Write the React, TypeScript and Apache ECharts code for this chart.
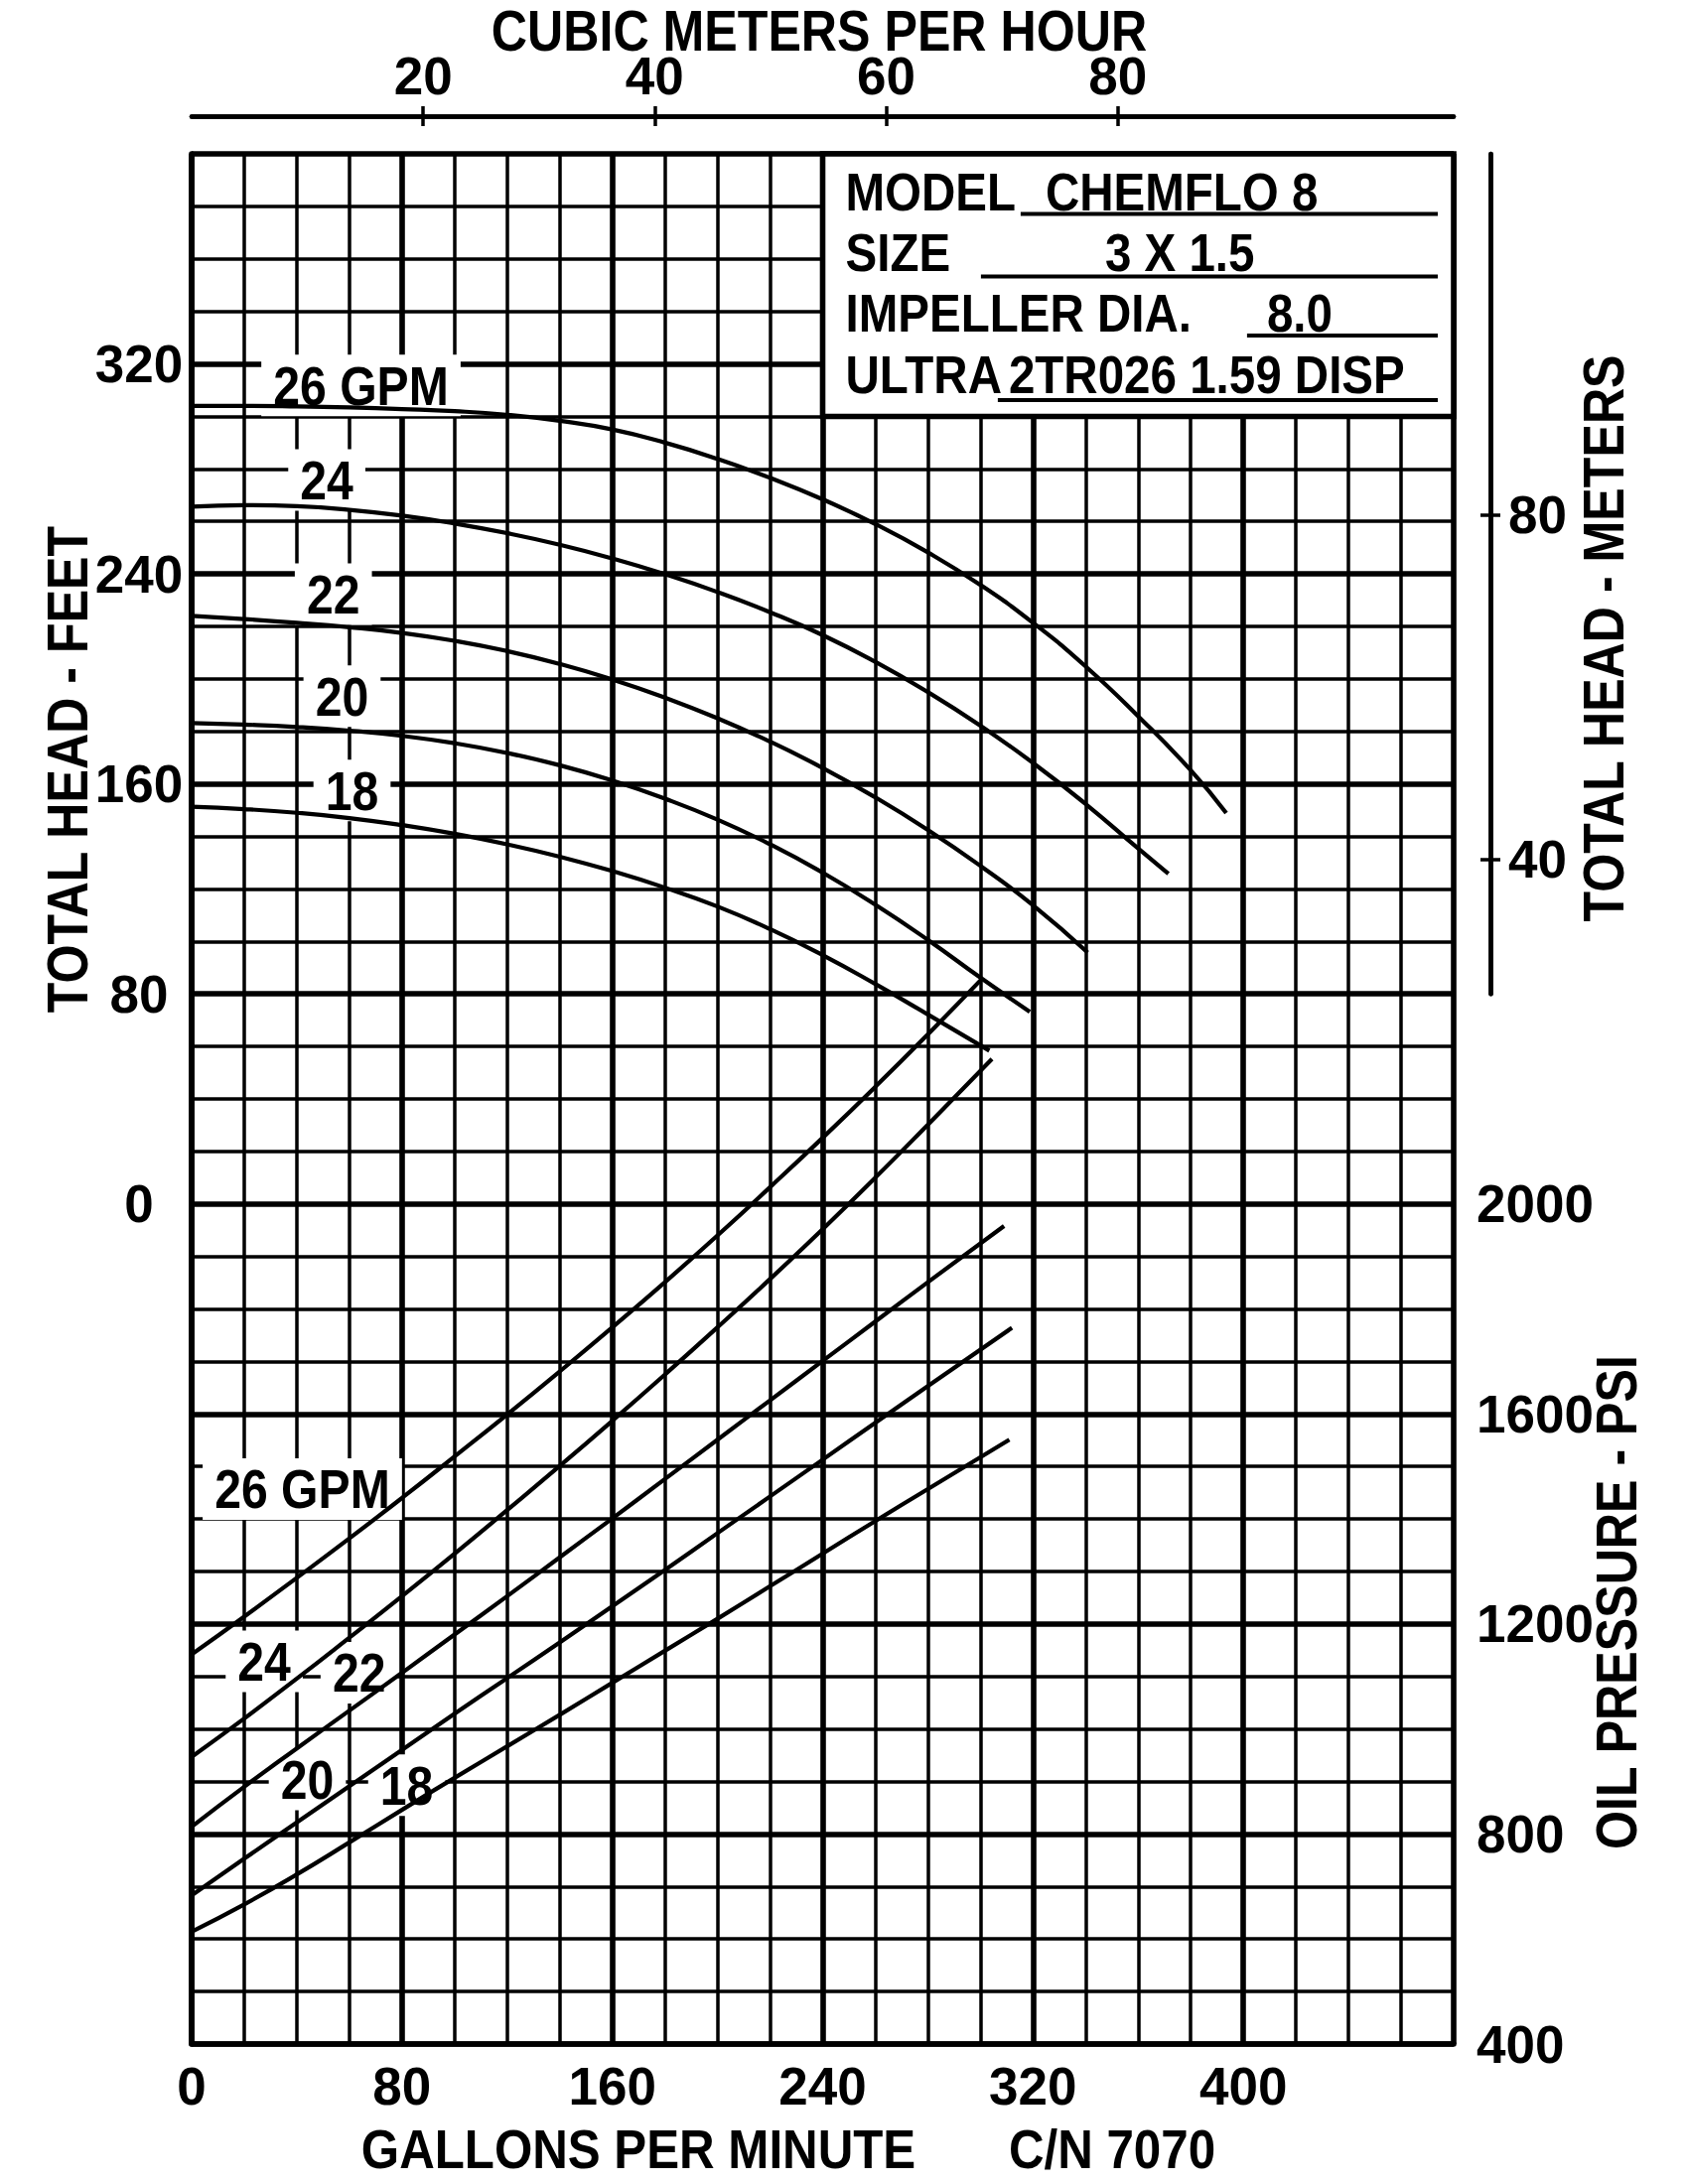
import React, { useEffect, useRef } from "react";
import * as echarts from "echarts";

const FONT = '"Liberation Sans", Arial, Helvetica, sans-serif';
const GPM_PER_M3H = 4.402868;
const M_PER_FT = 0.3048;

// axis tick labels
const gpmTickLabels = [0, 80, 160, 240, 320, 400];
const headTickLabels = [0, 80, 160, 240, 320];
const psiTickLabels = [2000, 1600, 1200, 800, 400];
const m3hTickLabels = [20, 40, 60, 80];
const metersTickLabels = [40, 80];

// head curves (total head, ft) vs flow (GPM), one per oil flow rate
const head26Gpm = [0, 20, 40, 60, 80, 100, 120, 140, 160, 180, 200, 220, 240, 260, 280, 300, 320, 340, 360, 380, 393.5];
const head26Ft = [304, 304, 303.8, 303.4, 302.8, 302, 300.6, 298.3, 295, 290, 283.8, 276.6, 268.4, 259, 248.2, 235.8, 221.4, 204.8, 185.8, 165.2, 148.9];
const head24Gpm = [0, 20, 40, 60, 80, 100, 120, 140, 160, 180, 200, 220, 240, 260, 280, 300, 320, 340, 360, 371.5];
const head24Ft = [265.6, 266.2, 265.8, 264.4, 262.2, 259.2, 255.5, 251.1, 245.9, 239.9, 233.1, 225.4, 216.7, 206.5, 195, 182.2, 168, 152.4, 135.4, 125.8];
const head22Gpm = [0, 20, 40, 60, 80, 100, 120, 140, 160, 180, 200, 220, 240, 260, 280, 300, 320, 340.8];
const head22Ft = [224, 222.8, 221.4, 219.7, 217.5, 214.5, 210.6, 205.7, 199.8, 192.9, 185, 176.1, 166.1, 154.9, 142.5, 128.8, 113.8, 95.8];
const head20Gpm = [0, 20, 40, 60, 80, 100, 120, 140, 160, 180, 200, 220, 240, 260, 280, 300, 318.8];
const head20Ft = [183.2, 182.6, 181.7, 180.3, 178.3, 175.5, 171.8, 167.1, 161.3, 154.4, 146.4, 137, 126.2, 114, 100.6, 86.2, 73.2];
const head18Gpm = [0, 20, 40, 60, 80, 100, 120, 140, 160, 180, 200, 220, 240, 260, 280, 303.4];
const head18Ft = [151.3, 150.4, 149, 147, 144.3, 141, 137, 132.3, 126.8, 120.5, 113.3, 104.7, 94.8, 83.8, 72.2, 58.4];

// oil pressure curves (psi) vs flow (GPM)
const oil26Gpm = [0, 20, 40, 60, 80, 100, 120, 140, 160, 180, 200, 220, 240, 260, 280, 300.8];
const oil26Psi = [1142, 1214, 1288, 1363, 1440, 1519, 1599, 1681, 1765, 1851, 1940, 2032, 2126, 2223, 2323, 2430];
const oil24Gpm = [0, 20, 40, 60, 80, 100, 120, 140, 160, 180, 200, 220, 240, 260, 280, 304.4];
const oil24Psi = [947, 1020, 1096, 1174, 1253, 1334, 1417, 1501, 1587, 1675, 1765, 1857, 1952, 2050, 2151, 2276];
const oil22Gpm = [0, 20, 40, 60, 80, 100, 120, 140, 160, 180, 200, 220, 240, 260, 280, 309];
const oil22Psi = [814, 890, 963, 1035, 1107, 1180, 1253, 1327, 1401, 1476, 1551, 1626, 1701, 1776, 1851, 1958];
const oil20Gpm = [0, 20, 40, 60, 80, 100, 120, 140, 160, 180, 200, 220, 240, 260, 280, 312];
const oil20Psi = [683, 753, 822, 891, 960, 1029, 1097, 1165, 1234, 1303, 1373, 1443, 1513, 1583, 1653, 1764];
const oil18Gpm = [0, 20, 40, 60, 80, 100, 120, 140, 160, 180, 200, 220, 240, 260, 280, 311];
const oil18Psi = [614, 666, 723, 784, 846, 907, 967, 1027, 1088, 1149, 1210, 1272, 1334, 1396, 1457, 1551];

// curve labels (anchored in data units)
const headLabelText = ["26 GPM", "24", "22", "20", "18"];
const headLabelGpm = [64.4, 51.4, 53.9, 57.2, 61];
const headLabelFt = [311.8, 275.8, 232.3, 193.4, 157.5];
const oilLabelText = ["26 GPM", "24", "22", "20", "18"];
const oilLabelGpm = [42.1, 27.6, 63.7, 44, 81.8];
const oilLabelPsi = [1457, 1129, 1107, 904, 893];

// info box extent (data units) and contents
const infoBoxGpm = [240, 480];
const infoBoxFt = [300, 400];
const infoLabels = ["MODEL", "SIZE", "IMPELLER DIA.", "ULTRA"];
const infoValues = ["CHEMFLO 8", "3 X 1.5", "8.0", "2TR026 1.59 DISP"];

// psi shares the plot with head: 0 ft == 2000 psi, 5 psi per ft-unit
const psiToAxis = (p: number) => (p - 2000) / 5;
const axisToPsi = (v: number) => 2000 + v * 5;

const GRID = { left: 193, top: 155, width: 1271, height: 1904 };
const Y_MIN = -320;
const Y_MAX = 400;

const axisFont = { fontSize: 53, fontWeight: "bold" as const, fontFamily: FONT, color: "#000" };
const THICK = 5.6;
const THIN = 3.5;

function buildOption() {
  const headSets = [
    [head26Gpm, head26Ft],
    [head24Gpm, head24Ft],
    [head22Gpm, head22Ft],
    [head20Gpm, head20Ft],
    [head18Gpm, head18Ft],
  ];
  const oilSets = [
    [oil26Gpm, oil26Psi],
    [oil24Gpm, oil24Psi],
    [oil22Gpm, oil22Psi],
    [oil20Gpm, oil20Psi],
    [oil18Gpm, oil18Psi],
  ];
  const lineBase = {
    type: "line" as const,
    xAxisIndex: 0,
    yAxisIndex: 0,
    showSymbol: false,
    symbol: "none",
    smooth: 0.5,
    z: 5,
    silent: true,
    lineStyle: { color: "#000", width: 4.2 },
  };
  const series: any[] = [];
  headSets.forEach(([g, f], i) => {
    series.push({ ...lineBase, name: "head" + i, data: g.map((x, k) => [x, f[k]]) });
  });
  oilSets.forEach(([g, p], i) => {
    series.push({ ...lineBase, name: "oil" + i, data: g.map((x, k) => [x, psiToAxis(p[k])]) });
  });

  const metersGridHeight = (GRID.height * (Y_MAX - 80)) / (Y_MAX - Y_MIN);

  return {
    animation: false,
    backgroundColor: "#fff",
    textStyle: { fontFamily: FONT },
    grid: [
      { ...GRID },
      { left: GRID.left, top: GRID.top, width: GRID.width, height: metersGridHeight },
    ],
    xAxis: [
      {
        gridIndex: 0,
        type: "value",
        min: 0,
        max: 480,
        interval: 80,
        position: "bottom",
        axisLine: { onZero: false, lineStyle: { color: "#000", width: THICK } },
        axisTick: { show: false },
        axisLabel: { ...axisFont, margin: 16, customValues: gpmTickLabels },
        splitLine: { show: true, lineStyle: { color: "#000", width: THICK } },
        minorTick: { show: false, splitNumber: 4 },
        minorSplitLine: { show: true, lineStyle: { color: "#000", width: THIN } },
      },
      {
        gridIndex: 0,
        type: "value",
        min: 0,
        max: 480 / GPM_PER_M3H,
        position: "top",
        offset: 38,
        axisLine: { onZero: false, lineStyle: { color: "#000", width: 4.5 } },
        axisTick: { show: true, customValues: m3hTickLabels, length: 10, inside: false, lineStyle: { color: "#000", width: 3.5 } },
        axisLabel: { ...axisFont, margin: 14, customValues: m3hTickLabels },
        splitLine: { show: false },
      },
      {
        gridIndex: 0,
        type: "value",
        min: 0,
        max: 480 / GPM_PER_M3H,
        position: "top",
        offset: 38,
        axisLine: { onZero: false, lineStyle: { color: "#000", width: 4.5 } },
        axisTick: { show: true, customValues: m3hTickLabels, length: 10, inside: true, lineStyle: { color: "#000", width: 3.5 } },
        axisLabel: { show: false },
        splitLine: { show: false },
      },
      { gridIndex: 1, type: "value", min: 0, max: 480, show: false },
    ],
    yAxis: [
      {
        gridIndex: 0,
        type: "value",
        min: Y_MIN,
        max: Y_MAX,
        interval: 80,
        position: "left",
        axisLine: { onZero: false, lineStyle: { color: "#000", width: THICK } },
        axisTick: { show: false },
        axisLabel: { ...axisFont, margin: 53, align: "center", customValues: headTickLabels },
        splitLine: { show: true, lineStyle: { color: "#000", width: THICK } },
        minorTick: { show: false, splitNumber: 4 },
        minorSplitLine: { show: true, lineStyle: { color: "#000", width: THIN } },
      },
      {
        gridIndex: 0,
        type: "value",
        min: Y_MIN,
        max: Y_MAX,
        interval: 80,
        position: "right",
        axisLine: { show: false, onZero: false },
        axisTick: { show: false },
        splitLine: { show: false },
        axisLabel: {
          ...axisFont,
          margin: 23,
          align: "left",
          customValues: psiTickLabels.map(psiToAxis),
          formatter: (v: number) => String(Math.round(axisToPsi(v))),
        },
      },
      {
        gridIndex: 1,
        type: "value",
        min: 80 * M_PER_FT,
        max: Y_MAX * M_PER_FT,
        position: "right",
        offset: 37,
        axisLine: { show: true, onZero: false, lineStyle: { color: "#000", width: 4.5 } },
        axisTick: { show: true, customValues: metersTickLabels, length: 10, inside: false, lineStyle: { color: "#000", width: 3.5 } },
        axisLabel: { ...axisFont, margin: 18, align: "left", customValues: metersTickLabels },
        splitLine: { show: false },
      },
      {
        gridIndex: 1,
        type: "value",
        min: 80 * M_PER_FT,
        max: Y_MAX * M_PER_FT,
        position: "right",
        offset: 37,
        axisLine: { show: true, onZero: false, lineStyle: { color: "#000", width: 4.5 } },
        axisTick: { show: true, customValues: metersTickLabels, length: 10, inside: true, lineStyle: { color: "#000", width: 3.5 } },
        axisLabel: { show: false },
        splitLine: { show: false },
      },
    ],
    series,
  };
}

function textEl(text: string, x: number, y: number, opts: any = {}) {
  const { size = 56, sx = 0.9, align = "center", rotation = 0, bg, padding, z = 12, lh } = opts;
  const style: any = {
    text,
    fontSize: size,
    fontWeight: "bold",
    fontFamily: FONT,
    fill: "#000",
    align,
    verticalAlign: "middle",
  };
  if (lh) style.lineHeight = lh;
  if (bg) {
    style.backgroundColor = bg;
    style.padding = padding || [2, 12];
  }
  return { type: "text", x, y, rotation, scaleX: sx, scaleY: 1, z, silent: true, style };
}

function lineEl(x1: number, y1: number, x2: number, y2: number, w = 4) {
  return { type: "line", z: 12, silent: true, shape: { x1, y1, x2, y2 }, style: { stroke: "#000", lineWidth: w } };
}

export default function App() {
  const ref = useRef<HTMLDivElement>(null);
  useEffect(() => {
    const el = ref.current;
    if (!el) return;
    const chart = echarts.init(el, undefined, { renderer: "svg" });
    chart.setOption(buildOption() as any);

    const px = (x: number, y: number) => chart.convertToPixel({ seriesIndex: 0 }, [x, y]) as number[];

    const graphic: any[] = [];

    // curve labels with white background (below the curves, above the grid)
    headLabelText.forEach((t, i) => {
      const [x, y] = px(headLabelGpm[i], headLabelFt[i]);
      graphic.push(textEl(t, x, y, { size: 56, sx: 0.86, bg: "#fff", padding: [3, 14], z: 2 }));
    });
    oilLabelText.forEach((t, i) => {
      const [x, y] = px(oilLabelGpm[i], psiToAxis(oilLabelPsi[i]));
      graphic.push(textEl(t, x, y, { size: 56, sx: 0.86, bg: "#fff", padding: [3, 14], z: 2 }));
    });

    // info box
    const [bx0, by0] = px(infoBoxGpm[0], infoBoxFt[1]);
    const [bx1, by1] = px(infoBoxGpm[1], infoBoxFt[0]);
    graphic.push({
      type: "rect",
      z: 10,
      silent: true,
      shape: { x: bx0, y: by0, width: bx1 - bx0, height: by1 - by0 },
      style: { fill: "#fff", stroke: "#000", lineWidth: 5.6 },
    });
    const rowY = [38, 99.5, 160, 222];
    const valueX = [224.4, 284.4, 447.4, 187.4];
    const lineY = [60.5, 123.6, 183, 248];
    const lineX = [199.4, 159.4, 427.4, 176.4];
    infoLabels.forEach((t, i) => {
      graphic.push(textEl(t, bx0 + 23, by0 + rowY[i], { size: 54, sx: 0.88, align: "left" }));
      graphic.push(textEl(infoValues[i], bx0 + valueX[i], by0 + rowY[i], { size: 54, sx: 0.88, align: "left" }));
      graphic.push(lineEl(bx0 + lineX[i], by0 + lineY[i], bx1 - 16, by0 + lineY[i], 4));
    });

    // axis titles
    const tOpts = { size: 57, sx: 0.88, lh: 44 };
    graphic.push(textEl("CUBIC METERS PER HOUR", 825, 31, tOpts));
    graphic.push(textEl("TOTAL HEAD - FEET", 68, 775, { ...tOpts, rotation: Math.PI / 2 }));
    graphic.push(textEl("TOTAL HEAD - METERS", 1615, 643, { ...tOpts, rotation: Math.PI / 2 }));
    graphic.push(textEl("OIL PRESSURE - PSI", 1628, 1614, { ...tOpts, rotation: Math.PI / 2 }));
    graphic.push(textEl("GALLONS PER MINUTE", 643, 2164, { ...tOpts, size: 56 }));
    graphic.push(textEl("C/N 7070", 1120, 2164, { ...tOpts, size: 56 }));

    chart.setOption({ graphic });

    return () => {
      chart.dispose();
    };
  }, []);
  return (
    <div
      ref={ref}
      style={{ position: "fixed", left: 0, top: 0, width: 1700, height: 2200, background: "#fff" }}
    />
  );
}
